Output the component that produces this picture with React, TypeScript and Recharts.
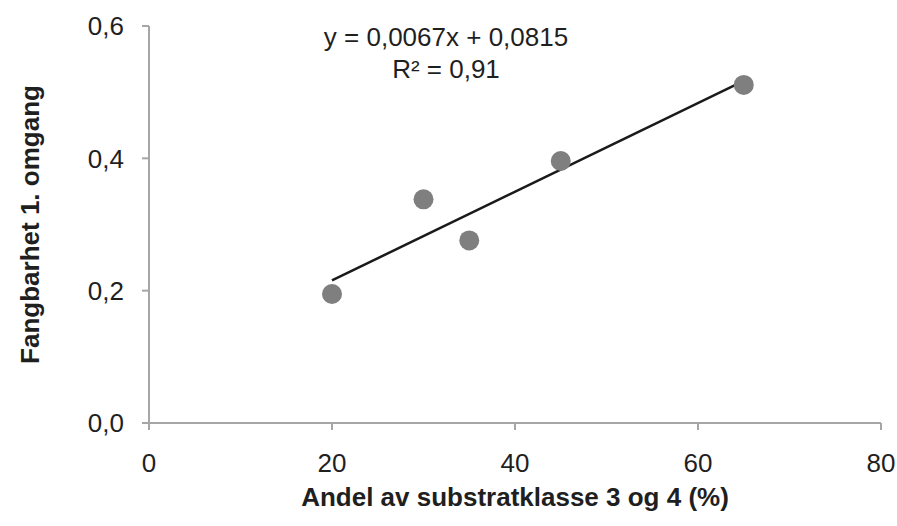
import {
  ScatterChart,
  Scatter,
  XAxis,
  YAxis,
  ReferenceLine,
  Label,
} from "recharts";

// Andel av substratklasse 3 og 4 (%) per stasjon
const substratAndel = [20, 30, 35, 45, 65];
// Fangbarhet i 1. omgang
const fangbarhet = [0.195, 0.338, 0.276, 0.396, 0.511];

const xTicks = [0, 20, 40, 60, 80];
const yTicks = [0, 0.2, 0.4, 0.6];

// Lineær trendlinje (minste kvadraters metode)
const trendSlope = 0.0067;
const trendIntercept = 0.0815;
const rSquared = 0.91;

const FONT = "'Liberation Sans', Arial, sans-serif";
const FONT_SIZE = 26;
const AXIS_COLOR = "#a6a6a6";
const TEXT_COLOR = "#1f1f1f";

const points = substratAndel.map((x, i) => ({ x, y: fangbarhet[i] }));

const xMin = Math.min(...substratAndel);
const xMax = Math.max(...substratAndel);
const trendSegment = [
  { x: xMin, y: trendSlope * xMin + trendIntercept },
  { x: xMax, y: trendSlope * xMax + trendIntercept },
];

const fmt = (v: number, d: number) => v.toFixed(d).replace(".", ",");

export default function App() {
  return (
    <div style={{ position: "absolute", left: 0, top: 0, background: "#fff" }}>
      <ScatterChart
        width={897}
        height={526}
        margin={{ top: 26, right: 16, left: 0, bottom: 0 }}
        style={{ fontFamily: FONT }}
      >
        <XAxis
          type="number"
          dataKey="x"
          domain={[0, 80]}
          ticks={xTicks}
          tickSize={7}
          tickMargin={24}
          height={103}
          stroke={AXIS_COLOR}
          strokeWidth={2}
          tick={{ fill: TEXT_COLOR, fontSize: FONT_SIZE }}
        >
          <Label
            content={({ viewBox }: any) => (
              <text
                x={viewBox.x + viewBox.width / 2}
                y={viewBox.y + 83}
                textAnchor="middle"
                fontWeight="bold"
                fontSize={FONT_SIZE}
                fill={TEXT_COLOR}
              >
                Andel av substratklasse 3 og 4 (%)
              </text>
            )}
          />
        </XAxis>
        <YAxis
          type="number"
          dataKey="y"
          domain={[0, 0.6]}
          ticks={yTicks}
          tickFormatter={(v: number) => fmt(v, 1)}
          tickSize={7}
          tickMargin={18}
          width={149}
          stroke={AXIS_COLOR}
          strokeWidth={2}
          tick={{ fill: TEXT_COLOR, fontSize: FONT_SIZE }}
        >
          <Label
            content={({ viewBox }: any) => {
              const cx = 30;
              const cy = viewBox.y + viewBox.height / 2;
              return (
                <text
                  x={cx}
                  y={cy}
                  transform={`rotate(-90 ${cx} ${cy})`}
                  textAnchor="middle"
                  dominantBaseline="central"
                  fontWeight="bold"
                  fontSize={FONT_SIZE}
                  fill={TEXT_COLOR}
                >
                  Fangbarhet 1. omgang
                </text>
              );
            }}
          />
        </YAxis>
        <ReferenceLine
          segment={trendSegment}
          stroke="#1a1a1a"
          strokeWidth={2.5}
          ifOverflow="visible"
        />
        <Scatter
          data={points}
          fill="#7f7f7f"
          isAnimationActive={false}
          shape={(p: any) => <circle cx={p.cx} cy={p.cy} r={10} fill="#7f7f7f" />}
        />
        <text x={446} y={46} textAnchor="middle" fontSize={FONT_SIZE} fill={TEXT_COLOR}>
          {`y = ${fmt(trendSlope, 4)}x + ${fmt(trendIntercept, 4)}`}
        </text>
        <text x={446} y={78} textAnchor="middle" fontSize={FONT_SIZE} fill={TEXT_COLOR}>
          {`R² = ${fmt(rSquared, 2)}`}
        </text>
      </ScatterChart>
    </div>
  );
}
